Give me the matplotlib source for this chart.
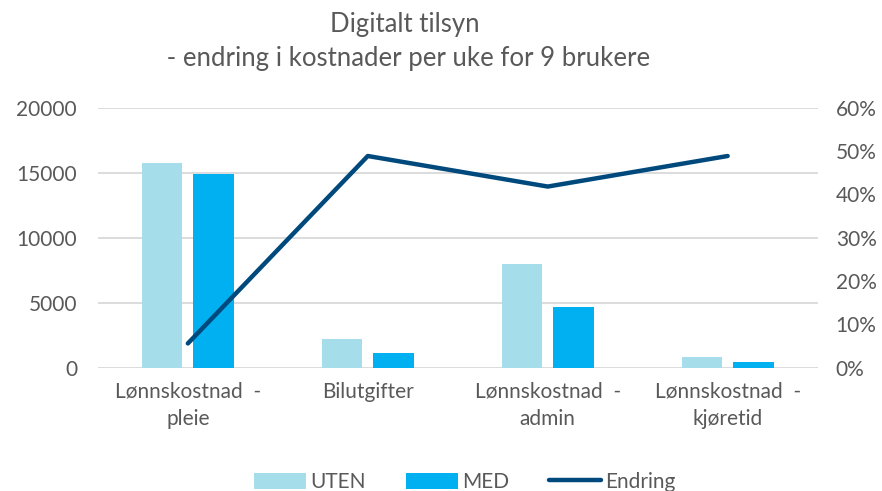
import numpy as np
import matplotlib.pyplot as plt
from matplotlib.ticker import FuncFormatter

plt.rcParams['font.family'] = ['Lato', 'DejaVu Sans']

kategorier = ["Lønnskostnad  -\npleie", "Bilutgifter", "Lønnskostnad  -\nadmin", "Lønnskostnad  -\nkjøretid"]
uten = [15780, 2180, 7980, 800]
med = [14920, 1100, 4650, 420]
endring = [0.056, 0.4885, 0.418, 0.4885]

grey = "#595959"
x = np.arange(len(kategorier))

fig = plt.figure(figsize=(8.82, 4.91), dpi=100)
ax = fig.add_axes([0.111, 0.2511, 0.816, 0.5296])
ax2 = ax.twinx()

w = 0.225
b1 = ax.bar(x - 0.143, uten, w, color="#A5DEEA", label="UTEN", zorder=3)
b2 = ax.bar(x + 0.143, med, w, color="#00B0F0", label="MED", zorder=3)
l1, = ax2.plot(x, endring, color="#00497D", lw=3.2, solid_capstyle="round",
               solid_joinstyle="round", label="Endring")

ax.set_xlim(-0.5, len(kategorier) - 0.5)
ax.set_ylim(0, 20000)
ax.set_yticks(np.arange(0, 20001, 5000))
ax2.set_ylim(0, 0.6)
ax2.set_yticks(np.arange(0, 0.61, 0.1))
ax2.yaxis.set_major_formatter(FuncFormatter(lambda v, p: f"{v*100:.0f}%"))

ax.grid(axis="y", color="#D9D9D9", lw=1.3, zorder=0)
ax.set_axisbelow(True)
for a in (ax, ax2):
    for s in a.spines.values():
        s.set_visible(False)
    a.tick_params(length=0, labelsize=15, colors=grey)
ax.tick_params(axis="y", pad=15)
ax2.tick_params(axis="y", pad=13)
ax.set_xticks(x)
ax.set_xticklabels(kategorier, linespacing=1.45)
ax.tick_params(axis="x", pad=10)

fig.text(0.459, 0.975, "Digitalt tilsyn\n - endring i kostnader per uke for 9 brukere",
         ha="center", va="top", fontsize=18.5, color=grey, linespacing=1.45)

fig.legend(handles=[b1, b2, l1], loc="lower center", bbox_to_anchor=(0.527, -0.04),
           ncol=3, frameon=False, fontsize=15, labelcolor=grey,
           handlelength=2.5, handleheight=0.8, handletextpad=0.2, columnspacing=1.9)

fig.savefig("out.png", dpi=100)
